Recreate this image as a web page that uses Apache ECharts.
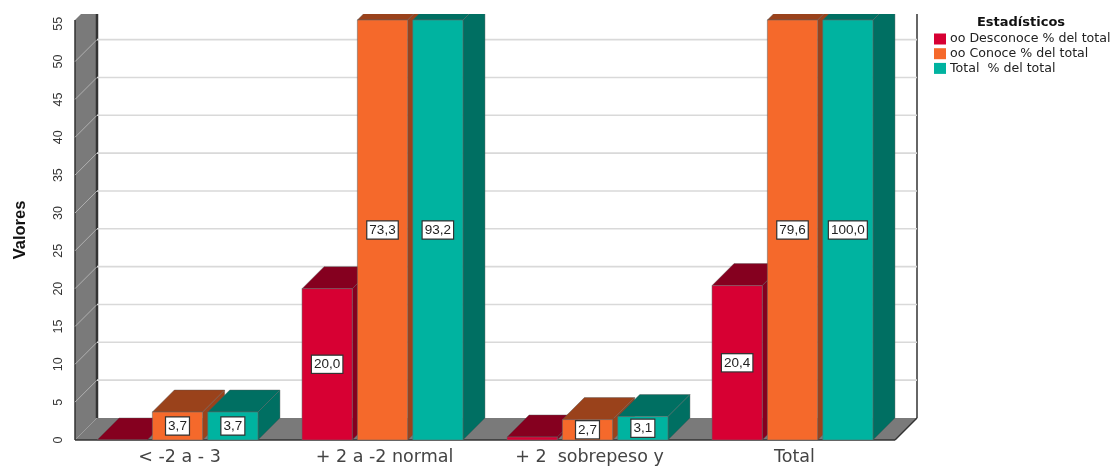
<!DOCTYPE html>
<html>
<head>
<meta charset="utf-8">
<style>html,body{margin:0;padding:0;background:#fff}#c{width:1110px;height:466px}</style>
<script src="https://cdn.jsdelivr.net/npm/echarts@6/dist/echarts.min.js"></script>
</head>
<body>
<div id="c"></div>
<script>
const categories = ['< -2 a - 3', '+ 2 a -2 normal', '+ 2  sobrepeso y', 'Total'];
const desconoce = [0.0, 20.0, 0.4, 20.4];
const conoce = [3.7, 73.3, 2.7, 79.6];
const total = [3.7, 93.2, 3.1, 100.0];
const yTicks = [0, 5, 10, 15, 20, 25, 30, 35, 40, 45, 50];
const seriesNames = ['oo Desconoce % del total', 'oo Conoce % del total', 'Total  % del total'];

const AXIS_MAX = 55.5, DEPTH = 22, BAR_W = 0.245, BAR_STEP = 0.27;
const palette = [
  { front: '#D70033', top: '#85001F', side: '#85001F' },
  { front: '#F5692B', top: '#9A421B', side: '#9A421B' },
  { front: '#00B3A0', top: '#006F62', side: '#006F62' }
];

function poly(points, fill, stroke, z2) {
  return { type: 'polygon', shape: { points }, z2: z2 || 0,
    style: { fill, stroke: stroke || fill, lineWidth: stroke ? 1 : 0 } };
}
function line(x1, y1, x2, y2, stroke, lineWidth, z2) {
  return { type: 'line', shape: { x1, y1, x2, y2 }, z2: z2 || 0, style: { stroke, lineWidth } };
}

function barSeries(name, values, idx) {
  const c = palette[idx];
  return {
    name, type: 'custom', z: 3 + idx,
    itemStyle: { color: c.front },
    encode: { x: 0, y: 1 },
    data: values.map((v, i) => [i, v]),
    renderItem(params, api) {
      const v = api.value(1);
      const shown = Math.min(v, AXIS_MAX);
      const band = api.size([1, 0])[0];
      const w = band * BAR_W;
      const center = api.coord([api.value(0), 0])[0];
      const l = center + (idx - 1) * band * BAR_STEP - w / 2;
      const r = l + w;
      const y0 = api.coord([0, 0])[1];
      const yt = api.coord([0, shown])[1];
      const ym = api.coord([0, shown / 2])[1];
      const children = [
        poly([[r, yt], [r + DEPTH, yt - DEPTH], [r + DEPTH, y0 - DEPTH], [r, y0]], c.side, '#55555566'),
        poly([[l, yt], [r, yt], [r + DEPTH, yt - DEPTH], [l + DEPTH, yt - DEPTH]], c.top, '#55555566'),
        poly([[l, y0], [r, y0], [r, yt], [l, yt]], c.front, '#66666688')
      ];
      if (v >= 1) {
        children.push({
          type: 'text', z2: 10, x: (l + r) / 2, y: ym,
          style: {
            text: v.toFixed(1).replace('.', ','), align: 'center', verticalAlign: 'middle',
            fontFamily: 'Liberation Sans', fontSize: 13.5, fill: '#222',
            backgroundColor: '#fff', borderColor: '#333', borderWidth: 1.2, padding: [2, 2, 1, 2]
          }
        });
      }
      return { type: 'group', children };
    }
  };
}

const option = {
  animation: false,
  backgroundColor: '#fff',
  textStyle: { fontFamily: 'Liberation Sans' },
  title: {
    text: 'Estadísticos', left: 1021, top: 16, padding: 0, textAlign: 'center',
    textStyle: { fontFamily: 'DejaVu Sans', fontSize: 13, fontWeight: 'bold', color: '#111' }
  },
  legend: {
    orient: 'vertical', left: 934, top: 32.5, padding: 0, itemWidth: 12, itemHeight: 11, itemGap: 1.7,
    icon: 'rect', selectedMode: false, data: seriesNames,
    textStyle: { fontFamily: 'DejaVu Sans', fontSize: 12.6, color: '#222', padding: [0, 0, 0, -1] }
  },
  grid: { left: 75, top: 20, width: 820, height: 420, containLabel: false },
  xAxis: {
    type: 'category', data: categories,
    axisLine: { show: false }, axisTick: { show: false }, splitLine: { show: false },
    axisLabel: { interval: 0, margin: 8, fontFamily: 'DejaVu Sans', fontSize: 17.5, color: '#444', padding: [0, 0, 0, 4] }
  },
  yAxis: {
    type: 'value', min: 0, max: AXIS_MAX, interval: 5,
    name: 'Valores', nameLocation: 'middle', nameGap: 46, nameRotate: 90,
    nameTextStyle: { fontFamily: 'Liberation Sans', fontSize: 16.5, fontWeight: 'bold', color: '#111' },
    axisLine: { show: false }, axisTick: { show: false }, splitLine: { show: false },
    axisLabel: { rotate: 90, margin: 16, fontFamily: 'Liberation Sans', fontSize: 12.5, color: '#333', showMaxLabel: false, hideOverlap: false,
      verticalAlign: 'middle', align: 'center' }
  },
  graphic: [{ type: 'rect', shape: { x: 0, y: 0, width: 925, height: 14 }, style: { fill: '#fff' }, z: 50 }],
  series: [
    {
      type: 'custom', z: 1, silent: true, encode: { x: 0, y: 1 }, data: [[0, 0]],
      renderItem(params, api) {
        const g = params.coordSys, x0 = g.x, x1 = g.x + g.width, y0 = g.y + g.height, yt = g.y;
        return { type: 'group', children: [
          poly([[x0, y0], [x0 + DEPTH, y0 - DEPTH], [x0 + DEPTH, yt - DEPTH], [x0, yt]], '#7A7A7A'),
          poly([[x0, y0], [x1, y0], [x1 + DEPTH, y0 - DEPTH], [x0 + DEPTH, y0 - DEPTH]], '#7A7A7A'),
          line(x0, y0, x0, yt, '#333', 1.5, 3),
          line(x0 + DEPTH, y0 - DEPTH, x0 + DEPTH, yt - DEPTH, '#333', 2.5, 3),
          line(x1 + DEPTH, y0 - DEPTH, x1 + DEPTH, yt - DEPTH, '#666', 2, 3),
          line(x1, y0, x1 + DEPTH, y0 - DEPTH, '#333', 1.5, 3),
          line(x0, y0, x1, y0, '#333', 1.5, 3)
        ] };
      }
    },
    {
      type: 'custom', z: 2, silent: true, encode: { x: 0, y: 1 },
      data: yTicks.slice(1).map(t => [0, t]),
      renderItem(params, api) {
        const g = params.coordSys, x0 = g.x, x1 = g.x + g.width;
        const y = api.coord([0, api.value(1)])[1];
        return { type: 'group', children: [
          line(x0, y, x0 + DEPTH, y - DEPTH, '#B0B0B0', 1),
          line(x0 + DEPTH, y - DEPTH, x1 + DEPTH, y - DEPTH, '#D9D9D9', 1.6)
        ] };
      }
    },
    barSeries(seriesNames[0], desconoce, 0),
    barSeries(seriesNames[1], conoce, 1),
    barSeries(seriesNames[2], total, 2)
  ]
};
const chart = echarts.init(document.getElementById('c'), null, { renderer: 'canvas' });
chart.setOption(option);
</script>
</body>
</html>
